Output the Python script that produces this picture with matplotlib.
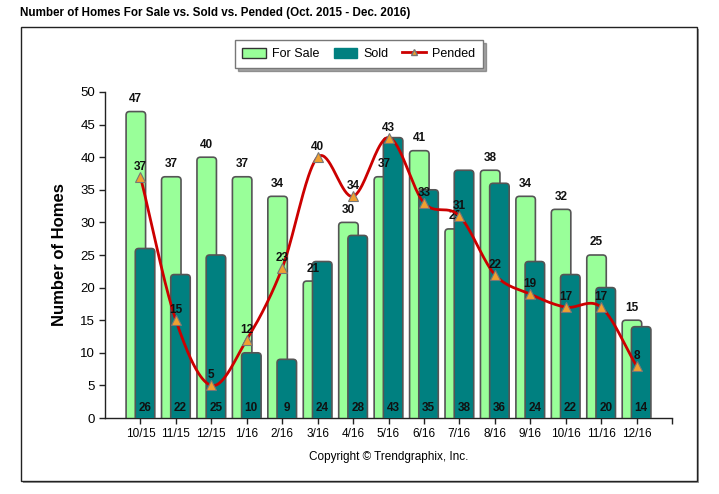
import numpy as np
import matplotlib
matplotlib.use("Agg")
import matplotlib.pyplot as plt
from matplotlib.patches import FancyBboxPatch, Rectangle, Patch
from matplotlib.lines import Line2D

plt.rcParams['font.family'] = ['Liberation Sans', 'DejaVu Sans']

months = ["10/15", "11/15", "12/15", "1/16", "2/16", "3/16", "4/16", "5/16",
          "6/16", "7/16", "8/16", "9/16", "10/16", "11/16", "12/16"]
for_sale = [47, 37, 40, 37, 34, 21, 30, 37, 41, 29, 38, 34, 32, 25, 15]
sold = [26, 22, 25, 10, 9, 24, 28, 43, 35, 38, 36, 24, 22, 20, 14]
pended = [37, 15, 5, 12, 23, 40, 34, 43, 33, 31, 22, 19, 17, 17, 8]
y_ticks = [0, 5, 10, 15, 20, 25, 30, 35, 40, 45, 50]

W, H = 719, 494
fig = plt.figure(figsize=(W / 100, H / 100), dpi=100)

# outer frame with shadow
fig.patches.append(Rectangle((23 / W, 1 - 483 / H), 676 / W, 454 / H, transform=fig.transFigure,
                             facecolor="#9a9a9a", edgecolor="none", zorder=0))
fig.patches.append(Rectangle((21 / W, 1 - 481 / H), 676 / W, 454 / H, transform=fig.transFigure,
                             facecolor="white", edgecolor="#222222", linewidth=1.0, zorder=1))

fig.text(20 / W, 1 - 13 / H, "Number of Homes For Sale vs. Sold vs. Pended (Oct. 2015 - Dec. 2016)",
         fontsize=8.4, fontweight="bold", ha="left", va="center")

ax = fig.add_axes([105 / W, 1 - 418 / H, (672 - 105) / W, (418 - 92) / H])
ax.set_zorder(2)
ax.patch.set_alpha(0)
ax.set_xlim(-1, 15)
ax.set_ylim(0, 50)

x = np.arange(len(months))
bw = 0.55
off = 0.13
px_x = (672 - 105) / 16.0
px_y = (418 - 92) / 50.0
aspect = px_x / px_y
r = 3.5 / px_x

for i in range(len(months)):
    fs = FancyBboxPatch((x[i] - off - bw / 2, -3), bw, for_sale[i] + 3,
                        boxstyle=f"round,pad=0,rounding_size={r}", mutation_aspect=aspect,
                        facecolor="#99FF99", edgecolor="#555555", linewidth=1.2, zorder=2, clip_on=True)
    ax.add_patch(fs)
    sd = FancyBboxPatch((x[i] + off - bw / 2, -3), bw, sold[i] + 3,
                        boxstyle=f"round,pad=0,rounding_size={r}", mutation_aspect=aspect,
                        facecolor="#008080", edgecolor="#555555", linewidth=1.2, zorder=3, clip_on=True)
    ax.add_patch(sd)
    ax.text(x[i] - off, for_sale[i] + 1.0, str(for_sale[i]), ha="center", va="bottom",
            fontsize=8.5, fontweight="bold", color="#111111", zorder=4)
    ax.text(x[i] + off, 1.5, str(sold[i]), ha="center", va="center",
            fontsize=8.5, fontweight="bold", color="#111111", zorder=4)

# Catmull-Rom smooth curve through pended points
xs, ys = [], []
p = np.array(pended, dtype=float)
n = len(p)
for i in range(n - 1):
    p0 = p[i - 1] if i > 0 else p[i]
    p3 = p[i + 2] if i + 2 < n else p[i + 1]
    m1 = (p[i + 1] - p0) / 2 if i > 0 else (p[i + 1] - p[i])
    m2 = (p3 - p[i]) / 2 if i + 2 < n else (p[i + 1] - p[i])
    t = np.linspace(0, 1, 40)
    h00 = 2 * t**3 - 3 * t**2 + 1
    h10 = t**3 - 2 * t**2 + t
    h01 = -2 * t**3 + 3 * t**2
    h11 = t**3 - t**2
    xs.extend(x[i] + t)
    ys.extend(h00 * p[i] + h10 * m1 + h01 * p[i + 1] + h11 * m2)
ax.plot(xs, ys, color="#CC0000", linewidth=2.0, zorder=5)
ax.plot(x, pended, linestyle="none", marker="^", markersize=7, markerfacecolor="#F0A030",
        markeredgecolor="#777777", markeredgewidth=0.8, zorder=6)
for i in range(n):
    ax.text(x[i], pended[i] + 0.6, str(pended[i]), ha="center", va="bottom",
            fontsize=8.5, fontweight="bold", color="#111111", zorder=7)

ax.set_yticks(y_ticks)
ax.set_yticklabels([str(v) for v in y_ticks], fontsize=9.5)
ax.set_xticks(list(x) + [15])
ax.set_xticklabels(months + [""], fontsize=8.5)
ax.tick_params(axis="both", direction="out", length=4, width=1, color="#222222")
ax.tick_params(axis="y", pad=3)
ax.tick_params(axis="x", pad=3)
for s in ["top", "right"]:
    ax.spines[s].set_visible(False)
for s in ["left", "bottom"]:
    ax.spines[s].set_color("#222222")
    ax.spines[s].set_linewidth(1.0)

ax.set_ylabel("Number of Homes", fontsize=12, fontweight="bold", labelpad=10)
ax.set_xlabel("Copyright \u00a9 Trendgraphix, Inc.", fontsize=8.5, labelpad=8)

handles = [Patch(facecolor="#99FF99", edgecolor="#333333", label="For Sale"),
           Patch(facecolor="#008080", edgecolor="#008080", label="Sold"),
           Line2D([0], [0], color="#CC0000", linewidth=2, marker="^", markersize=5,
                  markerfacecolor="#F0A030", markeredgecolor="#777777", label="Pended")]
leg = fig.legend(handles=handles, loc="center", bbox_to_anchor=(359 / W, 1 - 54 / H), ncol=3,
                 fontsize=9, frameon=True, fancybox=False, shadow=True, edgecolor="#777777",
                 handlelength=1.9, handleheight=0.9, handletextpad=0.5, columnspacing=1.1,
                 borderpad=0.6)
leg.get_frame().set_linewidth(1.0)
leg.set_zorder(10)

fig.savefig("out.png", dpi=100)
